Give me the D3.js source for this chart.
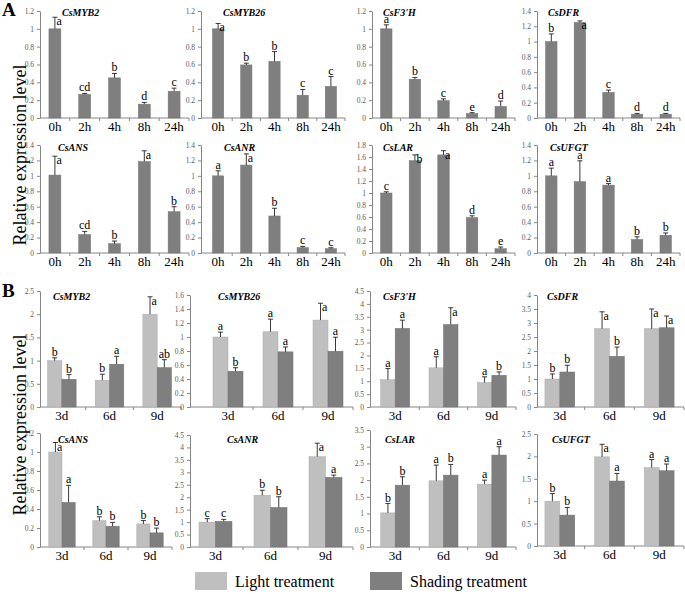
<!DOCTYPE html>
<html>
<head>
<meta charset="utf-8">
<script src="https://cdn.jsdelivr.net/npm/d3@7/dist/d3.min.js"></script>
<style>
  html, body { margin: 0; padding: 0; background: #fff; }
  svg { display: block; }
  svg text { font-family: "Liberation Serif", "DejaVu Serif", serif; }
</style>
</head>
<body>
<script>
// ---------------- DATA ----------------
const hourCats = ["0h", "2h", "4h", "8h", "24h"];
const dayCats = ["3d", "6d", "9d"];
const seriesNames = ["Light treatment", "Shading treatment"];

// Part A
const genesA = ["CsMYB2", "CsMYB26", "CsF3'H", "CsDFR", "CsANS", "CsANR", "CsLAR", "CsUFGT"];
const meanA = [
  [1.0, 0.265, 0.45, 0.155, 0.30],
  [1.0, 0.595, 0.635, 0.255, 0.355],
  [1.0, 0.435, 0.195, 0.05, 0.13],
  [1.0, 1.25, 0.335, 0.05, 0.05],
  [1.01, 0.24, 0.12, 1.185, 0.535],
  [1.0, 1.14, 0.48, 0.07, 0.056],
  [1.0, 1.54, 1.635, 0.59, 0.072],
  [1.0, 0.925, 0.88, 0.175, 0.23]
];
const errA = [
  [0.13, 0.01, 0.05, 0.02, 0.035],
  [0.06, 0.02, 0.11, 0.065, 0.11],
  [0.045, 0.02, 0.02, 0.01, 0.06],
  [0.1, 0.02, 0.03, 0.01, 0.01],
  [0.245, 0.04, 0.035, 0.14, 0.065],
  [0.065, 0.145, 0.1, 0.015, 0.012],
  [0.02, 0.095, 0.07, 0.03, 0.028],
  [0.1, 0.27, 0.02, 0.035, 0.03]
];
const lettersA = [
  ["a", "cd", "b", "d", "c"],
  ["a", "b", "b", "c", "c"],
  ["a", "b", "c", "e", "d"],
  ["b", "a", "c", "d", "d"],
  ["a", "cd", "b", "a", "b"],
  ["a", "a", "b", "c", "c"],
  ["c", "b", "a", "d", "e"],
  ["a", "a", "a", "b", "b"]
];
const yMaxA = [1.2, 1.2, 1.2, 1.4, 1.4, 1.4, 1.8, 1.4];
const yStepA = [0.2, 0.2, 0.2, 0.2, 0.2, 0.2, 0.2, 0.2];

// Part B
const genesB = ["CsMYB2", "CsMYB26", "CsF3'H", "CsDFR", "CsANS", "CsANR", "CsLAR", "CsUFGT"];
const lightMeanB = [
  [1.0, 0.576, 2.0], [1.0, 1.075, 1.242], [1.06, 1.52, 0.95], [1.0, 2.8, 2.8],
  [1.0, 0.278, 0.243], [1.0, 2.08, 3.63], [1.02, 1.98, 1.88], [1.0, 1.99, 1.75]
];
const lightErrB = [
  [0.06, 0.13, 0.375], [0.07, 0.18, 0.24], [0.43, 0.43, 0.22], [0.18, 0.6, 0.7],
  [0.1, 0.04, 0.035], [0.14, 0.2, 0.54], [0.28, 0.47, 0.12], [0.17, 0.28, 0.18]
];
const shadeMeanB = [
  [0.598, 0.922, 0.85], [0.511, 0.788, 0.797], [3.05, 3.2, 1.23], [1.25, 1.81, 2.83],
  [0.469, 0.219, 0.149], [1.03, 1.59, 2.8], [1.85, 2.15, 2.75], [0.69, 1.45, 1.68]
];
const shadeErrB = [
  [0.1, 0.17, 0.17], [0.05, 0.07, 0.2], [0.32, 0.65, 0.13], [0.24, 0.33, 0.42],
  [0.18, 0.04, 0.05], [0.08, 0.43, 0.09], [0.25, 0.32, 0.25], [0.17, 0.17, 0.15]
];
const lightLettersB = [
  ["b", "b", "a"], ["a", "a", "a"], ["a", "a", "a"], ["b", "a", "a"],
  ["a", "b", "b"], ["c", "b", "a"], ["b", "a", "a"], ["b", "a", "a"]
];
const shadeLettersB = [
  ["b", "a", "ab"], ["b", "a", "a"], ["a", "a", "b"], ["b", "b", "a"],
  ["a", "b", "b"], ["c", "b", "a"], ["b", "b", "a"], ["b", "a", "a"]
];
const yMaxB = [2.5, 1.6, 4.5, 4, 1.2, 4.5, 3.5, 2.5];
const yStepB = [0.5, 0.2, 0.5, 0.5, 0.2, 0.5, 0.5, 0.5];

// ---------------- LAYOUT / STYLE ----------------
const FONT = '"Liberation Serif", "DejaVu Serif", serif';
const C_DARK = "#7f7f7f", C_LIGHT = "#bfbfbf";
const AXIS_C = "#868686", TICK_TXT = "#595959";

const layoutA = {
  axisX: [40, 201, 372, 537],
  band: [[40, 189], [204, 345], [372, 515], [537, 680]],
  top: [11, 145], bottom: [118, 253], titleY: [16, 151],
  titleDx: [[22, 22, 11, 11], [18, 23, 11, 13]],
  beside: [[0], [0], [], [1], [0, 3], [1], [1, 2], []]
};
const layoutB = {
  axisX: [40, 190, 370, 537],
  band: [[[38, 181], [203, 353], [371, 516], [535, 684]],
         [[40, 172], [188, 353], [371, 516], [535, 684]]],
  top: [[291, 295, 291, 295], [433, 435, 430, 434]],
  bottom: [[407, 407, 407, 407], [547, 547, 547, 546]],
  titleY: [300, 443],
  titleDx: [[13, 28, 13, 10], [18, 37, 15, 15]],
  besideLight: [[2], [2], [], [1, 2], [0], [2], [], [1]],
  besideShade: [[], [], [1], [2], [], [], [], []]
};

const svg = d3.select("body").append("svg")
  .attr("width", 685).attr("height", 594)
  .attr("font-family", FONT);
svg.append("rect").attr("width", 685).attr("height", 594).attr("fill", "#fff");

function yTicks(max, step) {
  return d3.range(0, Math.round(max / step) + 1).map(i => +(i * step).toFixed(3));
}

function drawPanel(o) {
  const g = svg.append("g");
  const x = d3.scaleBand().domain(o.cats).range(o.band)
    .paddingInner(o.pInner).paddingOuter(o.pInner / 2);
  const y = d3.scaleLinear().domain([0, o.yMax]).range([o.bottom, o.top]);

  // y axis
  const ya = g.append("g").attr("transform", `translate(${o.axisX},0)`)
    .call(d3.axisLeft(y).tickValues(yTicks(o.yMax, o.yStep)).tickSize(3)
      .tickSizeOuter(0).tickPadding(3).tickFormat(d3.format("~g")));
  ya.attr("font-family", FONT);
  ya.select(".domain").attr("stroke", AXIS_C);
  ya.selectAll(".tick line").attr("stroke", AXIS_C);
  ya.selectAll(".tick text").attr("fill", TICK_TXT).attr("font-size", 7.5);

  // x axis
  const xa = g.append("g").attr("transform", `translate(0,${o.bottom})`)
    .call(d3.axisBottom(x).tickSize(0).tickPadding(4));
  xa.attr("font-family", FONT);
  xa.select(".domain").remove();
  xa.selectAll(".tick text").attr("fill", "#000").attr("font-size", 13);
  const xEnd = o.band[1];
  g.append("line").attr("x1", o.axisX).attr("x2", xEnd)
    .attr("y1", o.bottom).attr("y2", o.bottom).attr("stroke", AXIS_C);
  const bounds = o.cats.map(c => x(c) + x.bandwidth() + x.step() * x.paddingInner() / 2);
  g.selectAll(".sep").data(bounds).join("line")
    .attr("x1", d => d).attr("x2", d => d)
    .attr("y1", o.bottom).attr("y2", o.bottom + 3).attr("stroke", AXIS_C);

  // series
  const sub = d3.scaleBand().domain(d3.range(o.series.length)).range([0, x.bandwidth()]);
  o.series.forEach((s, si) => {
    const items = o.cats.map((c, i) => ({
      i, v: s.values[i], e: s.errors[i], lab: s.letters[i],
      cx: x(c) + sub(si) + sub.bandwidth() / 2, x0: x(c) + sub(si)
    }));
    g.selectAll(null).data(items).join("rect")
      .attr("x", d => d.x0).attr("width", sub.bandwidth())
      .attr("y", d => y(d.v)).attr("height", d => y(0) - y(d.v))
      .attr("fill", s.color).attr("stroke", d3.color(s.color).darker(0.3)).attr("stroke-width", 0.5);
    // error bars
    g.selectAll(null).data(items).join("path")
      .attr("d", d => `M${d.cx},${y(d.v)}V${y(d.v + d.e)}M${d.cx - 2.5},${y(d.v + d.e)}H${d.cx + 2.5}`)
      .attr("stroke", "#222").attr("stroke-width", 0.9).attr("fill", "none");
    // letters
    g.selectAll(null).data(items).join("text")
      .attr("x", d => s.beside.includes(d.i) ? d.cx + 1.5 : d.cx)
      .attr("y", d => s.beside.includes(d.i) ? y(d.v + d.e) + 8 : y(d.v + d.e) - 2)
      .attr("text-anchor", d => s.beside.includes(d.i) ? "start" : "middle")
      .attr("font-size", 12).attr("fill", "#000")
      .text(d => d.lab);
  });

  // title
  g.append("text").attr("x", o.axisX + o.titleDx).attr("y", o.titleY)
    .attr("font-size", 10).attr("font-weight", "bold").attr("font-style", "italic")
    .text(o.title);
}

// Part A panels
genesA.forEach((gname, k) => {
  const row = Math.floor(k / 4), col = k % 4;
  drawPanel({
    cats: hourCats, pInner: 0.6,
    band: layoutA.band[col], axisX: layoutA.axisX[col],
    top: layoutA.top[row], bottom: layoutA.bottom[row],
    yMax: yMaxA[k], yStep: yStepA[k],
    title: gname, titleDx: layoutA.titleDx[row][col], titleY: layoutA.titleY[row],
    series: [{ values: meanA[k], errors: errA[k], letters: lettersA[k], color: C_DARK, beside: layoutA.beside[k] }]
  });
});

// Part B panels
genesB.forEach((gname, k) => {
  const row = Math.floor(k / 4), col = k % 4;
  drawPanel({
    cats: dayCats, pInner: 0.4,
    band: layoutB.band[row][col], axisX: layoutB.axisX[col],
    top: layoutB.top[row][col], bottom: layoutB.bottom[row][col],
    yMax: yMaxB[k], yStep: yStepB[k],
    title: gname, titleDx: layoutB.titleDx[row][col], titleY: layoutB.titleY[row],
    series: [
      { values: lightMeanB[k], errors: lightErrB[k], letters: lightLettersB[k], color: C_LIGHT, beside: layoutB.besideLight[k] },
      { values: shadeMeanB[k], errors: shadeErrB[k], letters: shadeLettersB[k], color: C_DARK, beside: layoutB.besideShade[k] }
    ]
  });
});

// Panel letters
svg.append("text").attr("x", 2).attr("y", 16).attr("font-size", 19).attr("font-weight", "bold").text("A");
svg.append("text").attr("x", 2).attr("y", 297).attr("font-size", 19).attr("font-weight", "bold").text("B");

// Y titles
[155, 425].forEach(cy => {
  svg.append("text").attr("transform", `translate(26,${cy}) rotate(-90)`)
    .attr("text-anchor", "middle").attr("font-size", 18).text("Relative expression level");
});

// Legend
const legX = [195, 370];
const legend = svg.append("g").selectAll("g").data(seriesNames).join("g")
  .attr("transform", (d, i) => `translate(${legX[i]},572)`);
legend.append("rect").attr("width", 32).attr("height", 18)
  .attr("fill", (d, i) => i === 0 ? C_LIGHT : C_DARK);
legend.append("text").attr("x", 40).attr("y", 15).attr("font-size", 16).text(d => d);
</script>
</body>
</html>
